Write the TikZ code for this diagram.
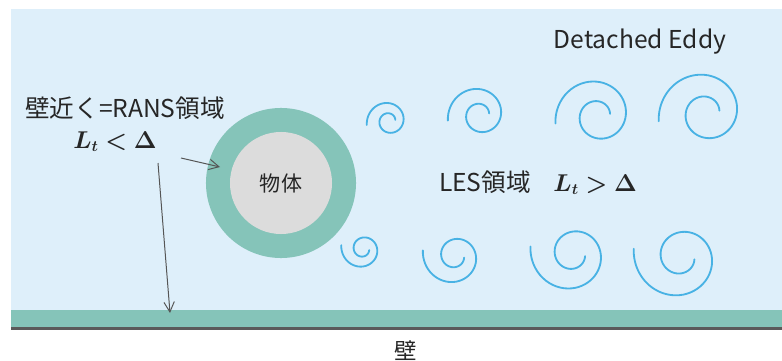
\documentclass[tikz,border=0pt]{standalone}
\usepackage{fontspec}
\setmainfont{Noto Sans CJK JP}
\usepackage{amsmath}
\usepackage{bm}
\usetikzlibrary{positioning,arrows.meta}

\definecolor{flowblue}{RGB}{222,239,250}
\definecolor{wallgreen}{RGB}{133,196,185}
\definecolor{walldark}{RGB}{90,90,90}
\definecolor{bodygray}{RGB}{220,220,220}
\definecolor{eddyblue}{RGB}{72,178,228}
\definecolor{inkgray}{RGB}{38,38,38}
\definecolor{arrowgray}{RGB}{85,85,85}

% one eddy: #1,#2 centre, #3 size, #4 = 1 upper row / -1 lower row (mirrored)
\newcommand{\vortex}[4]{%
  \draw[eddy] plot[domain=-350:190, samples=90, smooth, variable=\t]
    ({#1+#3*38*exp(0.002341*(\t-90))*cos(\t)}, {#2-(#4)*#3*38*exp(0.002341*(\t-90))*sin(\t)});
}

\begin{document}
\begin{tikzpicture}[
    x=0.025cm, y=-0.025cm,
    txt/.style={font=\fontsize{17.5}{21}\selectfont, text=inkgray, inner sep=0pt, anchor=base},
    mathtxt/.style={txt, font=\fontsize{16}{19}\selectfont},
    ring/.style={circle, fill=wallgreen, minimum size=3.75cm, inner sep=0pt},
    body/.style={circle, fill=bodygray, minimum size=2.55cm, inner sep=0pt, font=\fontsize{15}{18}\selectfont, text=inkgray},
    eddy/.style={draw=eddyblue, line width=1.3pt, line cap=round},
    arrow/.style={-{Straight Barb[length=2.5mm,width=2.6mm]}, draw=arrowgray, line width=0.7pt}
]
\useasboundingbox (0,0) rectangle (782,361);

% flow region and wall
\fill[flowblue] (11,9) rectangle (782,310);
\fill[wallgreen] (11,310) rectangle (782,327);
\fill[walldark] (11,327) rectangle (782,330);
\node[txt, font=\fontsize{16}{19}\selectfont] (wall) at (406,359) {壁};

% body with its RANS layer
\node[ring] (ring) at (281,183) {};
\node[body] (body) at (ring) {物体};

% labels
\node[txt] (rans) at (125,117) {壁近く=RANS領域};
\node[mathtxt] (ltsmall) at (115,148) {$\bm{L_t < \Delta}$};
\node[txt] (les) at (485,191) {LES領域};
\node[mathtxt, right=0.55cm of les.base east, anchor=base west] (ltlarge) {$\bm{L_t > \Delta}$};
\node[txt] (eddylbl) at (640,49) {Detached Eddy};

% eddies shed behind the body
\foreach \cx/\cy/\s in {389/121/0.47, 480/115/0.68, 598/116/0.9, 706/113/1}
  {\vortex{\cx}{\cy}{\s}{1}}
\foreach \cx/\cy/\s in {363/249/0.46, 455/256/0.68, 573/254/0.9, 681/257/1}
  {\vortex{\cx}{\cy}{\s}{-1}}

% arrows to the RANS layers
\coordinate (tail1) at (181,158);
\coordinate (layer) at (220,167);
\coordinate (tail2) at (158,163);
\coordinate (wallhit) at (170,313);
\draw[arrow] (tail1) -- (layer);
\draw[arrow] (tail2) -- (wallhit);

\end{tikzpicture}
\end{document}
